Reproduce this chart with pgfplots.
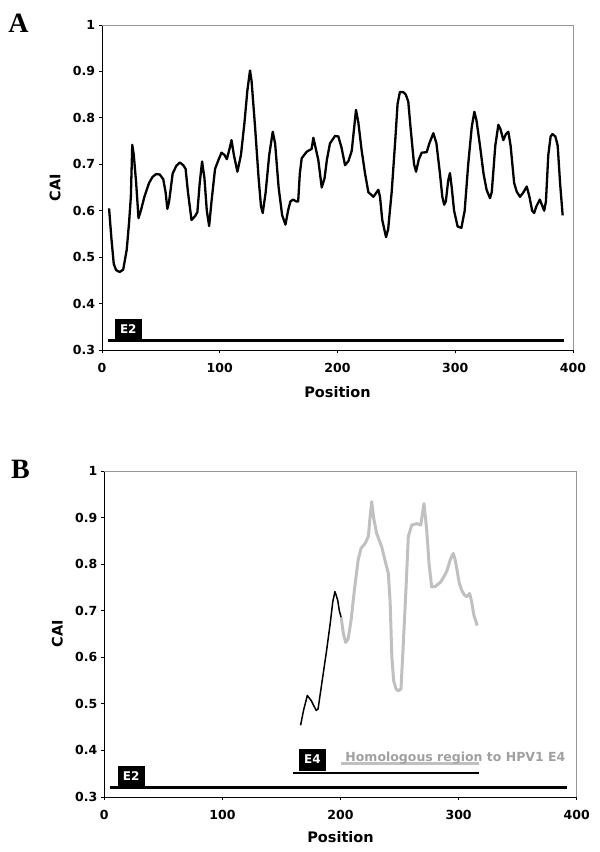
\documentclass[border=0pt]{standalone}
\usepackage{fontspec}
\setmainfont{DejaVu Sans}
\newfontfamily\panelfont{Liberation Serif}
\usepackage{pgfplots}
\pgfplotsset{compat=1.18}
\definecolor{lgray}{HTML}{C0C0C0}
\definecolor{tgray}{HTML}{A0A0A0}
\definecolor{bgray}{HTML}{969696}
\pgfplotsset{
 cai/.style={
  scale only axis, xmin=0, xmax=400, ymin=0.3, ymax=1,
  axis x line*=bottom, axis y line*=left,
  axis line style={-,black,line width=0.8bp},
  xtick={0,100,200,300,400}, ytick={0.3,0.4,0.5,0.6,0.7,0.8,0.9,1},
  tick align=outside, major tick length=3.5bp, tick style={black,line width=0.8bp},
  /pgf/number format/assume math mode=true,
  ticklabel style={font=\bfseries\fontsize{12.5bp}{14bp}\selectfont},
  xticklabel style={yshift=-6bp},
  yticklabel style={/pgf/number format/fixed,/pgf/number format/precision=1},
  label style={font=\bfseries\fontsize{14.5bp}{16bp}\selectfont},
  xlabel=Position, ylabel=CAI,
  ylabel style={at={(axis description cs:0,0.5)},anchor=center,yshift=47bp},
  clip=false,
 },
}
\tikzset{gene/.style={fill=black,text=white,inner sep=0pt,font=\bfseries\fontsize{12bp}{14bp}\selectfont}}
\begin{document}
\begin{tikzpicture}[x=1bp,y=1bp]
\useasboundingbox (0,0) rectangle (600,852);
\node[font=\panelfont\bfseries\fontsize{28bp}{30bp}\selectfont] at (18.5,828.5) {A};
\node[font=\panelfont\bfseries\fontsize{28bp}{30bp}\selectfont] at (20.5,382.5) {B};
% Panel A
\begin{axis}[cai, at={(102bp,502bp)}, anchor=south west, width=471bp, height=325bp,
  xlabel style={at={(axis description cs:0.5,0)},anchor=center,yshift=-42bp}]
\addplot[black, line width=2.3bp, line join=round] coordinates {
(6,0.605) (8,0.54) (10,0.485) (12,0.472) (15,0.468) (18,0.473) (21,0.516) (23,0.575) (24.5,0.63) (25.7,0.742) (27,0.72) (29,0.66) (31,0.584) (33,0.6) (36,0.63) (40,0.66) (43,0.673) (46,0.679) (49,0.678) (52,0.668) (54,0.64) (55.5,0.604) (57,0.62) (60,0.68) (63,0.696) (66,0.704) (69,0.698) (71,0.69) (73,0.64) (76,0.58) (79,0.588) (81,0.597) (83,0.66) (85,0.706) (87,0.67) (89,0.6) (91,0.567) (93,0.62) (96,0.69) (99,0.71) (101.5,0.725) (104,0.72) (106,0.711) (108,0.73) (110,0.752) (112,0.72) (115,0.684) (118,0.72) (121,0.79) (123.5,0.86) (125.7,0.902) (127,0.88) (130,0.78) (133,0.67) (135,0.61) (136.5,0.595) (139,0.64) (142,0.72) (145,0.77) (147,0.745) (150,0.65) (153,0.59) (155.8,0.57) (158,0.6) (160,0.62) (162.3,0.624) (165,0.62) (166.6,0.62) (168,0.68) (169.6,0.713) (173.8,0.727) (178,0.733) (179.5,0.757) (181,0.74) (183.7,0.709) (186.6,0.65) (189,0.67) (191,0.71) (193.6,0.745) (197.9,0.761) (200.7,0.76) (203.5,0.735) (206.4,0.698) (209.3,0.707) (212.1,0.729) (215.7,0.817) (217.7,0.79) (220.5,0.73) (223.4,0.68) (226.2,0.64) (230.5,0.63) (234.7,0.645) (236.1,0.63) (238,0.58) (241.2,0.543) (243,0.56) (246,0.64) (249,0.75) (251,0.83) (253,0.856) (256,0.855) (258,0.85) (260.1,0.835) (262,0.78) (265,0.7) (266.7,0.684) (269,0.71) (271.5,0.725) (275.7,0.726) (278,0.745) (281.4,0.767) (284,0.745) (287,0.68) (289,0.63) (290.6,0.613) (292,0.62) (294,0.665) (295.5,0.681) (297,0.65) (299,0.6) (302,0.566) (305.2,0.563) (308,0.6) (311,0.7) (314,0.78) (316.2,0.813) (318,0.795) (321,0.74) (324,0.68) (326.6,0.645) (329.5,0.627) (331,0.64) (334,0.74) (336.6,0.785) (338.5,0.775) (340.8,0.752) (343,0.765) (345.1,0.77) (347,0.74) (350,0.66) (352.2,0.641) (355,0.63) (358,0.64) (360.7,0.652) (363,0.63) (365.3,0.6) (367,0.595) (369,0.61) (371.8,0.624) (374,0.61) (375.5,0.6) (377,0.62) (379,0.72) (381,0.76) (382.5,0.765) (385,0.76) (387,0.74) (389,0.66) (391.2,0.59)
};
\addplot[black, line width=3.5bp] coordinates {(5,0.32) (392,0.32)};
\node[gene, minimum width=26.7bp, minimum height=20bp] at (axis cs:22.35,0.3445) {E2};
\draw[bgray, line width=0.8bp] (rel axis cs:0,1) -- (rel axis cs:1,1) -- (rel axis cs:1,0);
\end{axis}
% Panel B
\begin{axis}[cai, at={(104.3bp,55bp)}, anchor=south west, width=472.4bp, height=326bp,
  xlabel style={at={(axis description cs:0.5,0)},anchor=center,yshift=-40bp}]
\addplot[lgray, line width=3bp, line join=round] coordinates {
(200.5,0.686) (202.5,0.65) (204.4,0.632) (206.5,0.64) (209,0.68) (212,0.75) (215,0.81) (217.4,0.834) (221,0.845) (223.6,0.86) (225,0.9) (226.4,0.934) (228,0.9) (230.6,0.866) (234.9,0.837) (237.5,0.81) (240.5,0.78) (242,0.72) (243.5,0.6) (245,0.55) (247,0.532) (249,0.528) (251.2,0.532) (253,0.62) (255.4,0.744) (257.4,0.859) (260.3,0.884) (264.5,0.887) (267.9,0.884) (270.7,0.93) (273,0.873) (275,0.8) (277.2,0.751) (280.2,0.752) (285,0.762) (289.9,0.784) (293,0.81) (295.5,0.823) (297,0.81) (298.5,0.79) (300.5,0.76) (302.5,0.745) (304.5,0.735) (306.7,0.73) (309.3,0.737) (311,0.72) (313,0.69) (315.8,0.668)
};
\addplot[black, line width=1.5bp, line join=round] coordinates {
(166.2,0.454) (168.7,0.486) (171.9,0.518) (175.2,0.507) (179.4,0.486) (181,0.489) (184.9,0.557) (188.2,0.614) (191.4,0.675) (193.5,0.72) (195.3,0.741) (197.6,0.723) (199,0.7) (200.5,0.686)
};
\addplot[black, line width=3.5bp] coordinates {(5,0.32) (392,0.32)};
\addplot[black, line width=2.2bp] coordinates {(160,0.351) (317.4,0.351)};
\addplot[lgray, line width=3bp] coordinates {(200.5,0.371) (317.4,0.371)};
\node[gene, minimum width=26.8bp, minimum height=19.5bp] at (axis cs:22.7,0.3455) {E2};
\node[gene, minimum width=27.6bp, minimum height=22bp] at (axis cs:176.3,0.3805) {E4};
\node[anchor=base west, inner sep=0pt, text=tgray, font=\bfseries\fontsize{12.5bp}{14bp}\selectfont] at (axis cs:204,0.3758) {Homologous region to HPV1 E4};
\draw[bgray, line width=0.8bp] (rel axis cs:0,1) -- (rel axis cs:1,1) -- (rel axis cs:1,0);
\end{axis}
\end{tikzpicture}
\end{document}
